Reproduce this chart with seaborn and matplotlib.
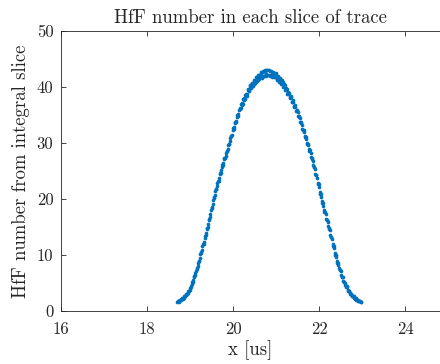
import matplotlib
matplotlib.use("Agg")
import matplotlib.pyplot as plt
import seaborn as sns
import pandas as pd

# slice start times, first pass of readings [us]
x_us = [18.700, 18.725, 18.750, 18.775, 18.800, 18.825, 18.850, 18.875, 18.900, 18.925,
        18.950, 18.975, 19.000, 19.025, 19.050, 19.075, 19.100, 19.125, 19.150, 19.175,
        19.200, 19.225, 19.250, 19.275, 19.300, 19.325, 19.350, 19.375, 19.400, 19.425,
        19.450, 19.475, 19.500, 19.525, 19.550, 19.575, 19.600, 19.625, 19.650, 19.675,
        19.700, 19.725, 19.750, 19.775, 19.800, 19.825, 19.850, 19.875, 19.900, 19.925,
        19.950, 19.975, 20.000, 20.025, 20.050, 20.075, 20.100, 20.125, 20.150, 20.175,
        20.200, 20.225, 20.250, 20.275, 20.300, 20.325, 20.350, 20.375, 20.400, 20.425,
        20.450, 20.475, 20.500, 20.525, 20.550, 20.575, 20.600, 20.625, 20.650, 20.675,
        20.700, 20.725, 20.750, 20.775, 20.800, 20.825, 20.850, 20.875, 20.900, 20.925,
        20.950, 20.975, 21.000, 21.025, 21.050, 21.075, 21.100, 21.125, 21.150, 21.175,
        21.200, 21.225, 21.250, 21.275, 21.300, 21.325, 21.350, 21.375, 21.400, 21.425,
        21.450, 21.475, 21.500, 21.525, 21.550, 21.575, 21.600, 21.625, 21.650, 21.675,
        21.700, 21.725, 21.750, 21.775, 21.800, 21.825, 21.850, 21.875, 21.900, 21.925,
        21.950, 21.975, 22.000, 22.025, 22.050, 22.075, 22.100, 22.125, 22.150, 22.175,
        22.200, 22.225, 22.250, 22.275, 22.300, 22.325, 22.350, 22.375, 22.400, 22.425,
        22.450, 22.475, 22.500, 22.525, 22.550, 22.575, 22.600, 22.625, 22.650, 22.675,
        22.700, 22.725, 22.750, 22.775, 22.800, 22.825, 22.850, 22.875, 22.900, 22.925,
        22.950, 22.975]

hff_count = [1.6, 1.8, 1.7, 2.0, 2.1, 2.3, 2.4, 2.7, 2.8, 3.1,
             3.3, 3.6, 4.1, 4.4, 5.1, 5.5, 6.3, 6.7, 7.5, 8.0,
             8.9, 9.5, 10.4, 10.9, 11.9, 12.4, 13.4, 14.0, 14.9, 15.5,
             16.5, 17.3, 18.4, 19.1, 20.2, 20.7, 21.7, 22.3, 23.2, 23.8,
             24.7, 25.1, 26.0, 26.5, 27.3, 27.7, 28.6, 29.0, 29.9, 30.3,
             31.2, 31.5, 32.6, 32.8, 33.8, 34.0, 35.0, 35.2, 36.2, 36.3,
             37.2, 37.0, 38.0, 37.9, 38.8, 38.7, 39.6, 39.4, 40.3, 40.0,
             40.8, 40.5, 41.3, 40.9, 41.8, 41.3, 42.2, 41.7, 42.5, 41.9,
             42.7, 42.0, 42.9, 42.3, 43.0, 42.2, 42.9, 42.1, 42.7, 42.0,
             42.5, 41.8, 42.2, 41.5, 41.8, 41.1, 41.4, 40.7, 40.9, 40.1,
             40.3, 39.5, 39.6, 38.8, 38.9, 38.1, 38.2, 37.3, 37.4, 36.5,
             36.5, 35.7, 35.6, 34.7, 34.5, 33.5, 33.3, 32.3, 32.0, 31.0,
             30.7, 29.8, 29.6, 28.6, 28.3, 27.2, 26.8, 25.7, 25.3, 24.2,
             23.8, 22.6, 22.1, 20.9, 20.4, 19.2, 18.8, 17.6, 17.3, 16.2,
             15.9, 14.7, 14.4, 13.2, 12.8, 11.6, 11.2, 10.0, 9.6, 8.5,
             8.3, 7.3, 7.1, 6.1, 6.0, 5.1, 5.0, 4.3, 4.2, 3.6,
             3.5, 3.0, 3.0, 2.6, 2.6, 2.2, 2.3, 1.9, 2.0, 1.7,
             1.8, 1.6]

# interleaved slices, second pass of readings [us]
x_us_b = [18.7125, 18.7375, 18.7625, 18.7875, 18.8125, 18.8375, 18.8625, 18.8875, 18.9125, 18.9375,
          18.9625, 18.9875, 19.0125, 19.0375, 19.0625, 19.0875, 19.1125, 19.1375, 19.1625, 19.1875,
          19.2125, 19.2375, 19.2625, 19.2875, 19.3125, 19.3375, 19.3625, 19.3875, 19.4125, 19.4375,
          19.4625, 19.4875, 19.5125, 19.5375, 19.5625, 19.5875, 19.6125, 19.6375, 19.6625, 19.6875,
          19.7125, 19.7375, 19.7625, 19.7875, 19.8125, 19.8375, 19.8625, 19.8875, 19.9125, 19.9375,
          19.9625, 19.9875, 20.0125, 20.0375, 20.0625, 20.0875, 20.1125, 20.1375, 20.1625, 20.1875,
          20.2125, 20.2375, 20.2625, 20.2875, 20.3125, 20.3375, 20.3625, 20.3875, 20.4125, 20.4375,
          20.4625, 20.4875, 20.5125, 20.5375, 20.5625, 20.5875, 20.6125, 20.6375, 20.6625, 20.6875,
          20.7125, 20.7375, 20.7625, 20.7875, 20.8125, 20.8375, 20.8625, 20.8875, 20.9125, 20.9375,
          20.9625, 20.9875, 21.0125, 21.0375, 21.0625, 21.0875, 21.1125, 21.1375, 21.1625, 21.1875,
          21.2125, 21.2375, 21.2625, 21.2875, 21.3125, 21.3375, 21.3625, 21.3875, 21.4125, 21.4375,
          21.4625, 21.4875, 21.5125, 21.5375, 21.5625, 21.5875, 21.6125, 21.6375, 21.6625, 21.6875,
          21.7125, 21.7375, 21.7625, 21.7875, 21.8125, 21.8375, 21.8625, 21.8875, 21.9125, 21.9375,
          21.9625, 21.9875, 22.0125, 22.0375, 22.0625, 22.0875, 22.1125, 22.1375, 22.1625, 22.1875,
          22.2125, 22.2375, 22.2625, 22.2875, 22.3125, 22.3375, 22.3625, 22.3875, 22.4125, 22.4375,
          22.4625, 22.4875, 22.5125, 22.5375, 22.5625, 22.5875, 22.6125, 22.6375, 22.6625, 22.6875,
          22.7125, 22.7375, 22.7625, 22.7875, 22.8125, 22.8375, 22.8625, 22.8875, 22.9125, 22.9375,
          22.9625]

hff_count_b = [1.7, 1.6, 2.0, 1.9, 2.3, 2.2, 2.6, 2.6, 3.0, 3.0,
               3.6, 3.8, 4.2, 4.9, 5.2, 6.0, 6.4, 7.2, 7.6, 8.6,
               9.0, 10.1, 10.5, 11.6, 12.0, 13.1, 13.5, 14.7, 15.0, 16.2,
               16.7, 18.0, 18.6, 19.8, 20.3, 21.4, 21.8, 22.9, 23.3, 24.4,
               24.7, 25.8, 26.1, 27.1, 27.3, 28.3, 28.6, 29.7, 29.9, 30.9,
               31.2, 32.3, 32.5, 33.5, 33.7, 34.7, 34.9, 35.9, 36.0, 36.9,
               36.8, 37.8, 37.6, 38.6, 38.4, 39.4, 39.2, 40.2, 39.8, 40.8,
               40.2, 41.3, 40.7, 41.7, 41.0, 42.2, 41.4, 42.6, 41.6, 42.8,
               41.9, 43.0, 42.0, 43.1, 42.1, 43.0, 42.0, 42.9, 41.8, 42.7,
               41.7, 42.5, 41.3, 42.0, 40.9, 41.6, 40.6, 41.2, 40.0, 40.6,
               39.4, 39.9, 38.8, 39.1, 38.2, 38.4, 37.4, 37.6, 36.6, 36.8,
               35.8, 35.9, 34.9, 34.9, 33.7, 33.7, 32.5, 32.4, 31.2, 31.1,
               30.0, 29.9, 28.9, 28.7, 27.5, 27.3, 26.0, 25.8, 24.5, 24.3,
               22.9, 22.6, 21.3, 20.9, 19.6, 19.2, 18.0, 17.7, 16.5, 16.3,
               15.1, 14.8, 13.6, 13.2, 12.0, 11.6, 10.4, 10.0, 8.9, 8.6,
               7.7, 7.3, 6.5, 6.1, 5.4, 5.2, 4.6, 4.4, 3.8, 3.6,
               3.2, 3.1, 2.7, 2.7, 2.3, 2.3, 2.0, 2.0, 1.8, 1.8,
               1.6]

x_ticks = [16, 18, 20, 22, 24]
y_ticks = [0, 10, 20, 30, 40, 50]

df = pd.DataFrame({"x": x_us + x_us_b, "n": hff_count + hff_count_b})

sns.set_style("ticks")
plt.rcParams["font.family"] = ["cmr10", "DejaVu Serif"]
plt.rcParams["mathtext.fontset"] = "cm"
plt.rcParams["axes.formatter.use_mathtext"] = True
plt.rcParams["axes.unicode_minus"] = False

fig = plt.figure(figsize=(4.4, 3.64), dpi=100)
ax = fig.add_axes([61 / 440, 53 / 364, 1 - 61 / 440, (311 - 31) / 364])

sns.scatterplot(data=df, x="x", y="n", ax=ax, color="#0072BD", s=7,
                linewidth=0, marker="o", legend=False)

ax.set_xlim(16, 24.81)
ax.set_ylim(0, 50)
ax.set_xticks(x_ticks)
ax.set_yticks(y_ticks)
ax.set_xticklabels([str(t) for t in x_ticks])
ax.set_yticklabels([str(t) for t in y_ticks])

for side in ["left", "bottom", "top"]:
    ax.spines[side].set_visible(True)
    ax.spines[side].set_color("#262626")
    ax.spines[side].set_linewidth(0.6)
ax.spines["right"].set_visible(False)

ax.tick_params(direction="in", length=3.5, width=0.6, color="#262626",
               labelsize=12, labelcolor="#262626", top=True)
ax.tick_params(axis="x", pad=8)
ax.tick_params(axis="y", pad=5.5)

ax.set_xlabel("x [us]", fontsize=13.5, color="#262626", labelpad=2)
ax.set_ylabel("HfF number from integral slice", fontsize=13.5, color="#262626", labelpad=5)
ax.set_title("HfF number in each slice of trace", fontsize=13.5, color="#262626", pad=6)

fig.savefig("out.png", dpi=100)
